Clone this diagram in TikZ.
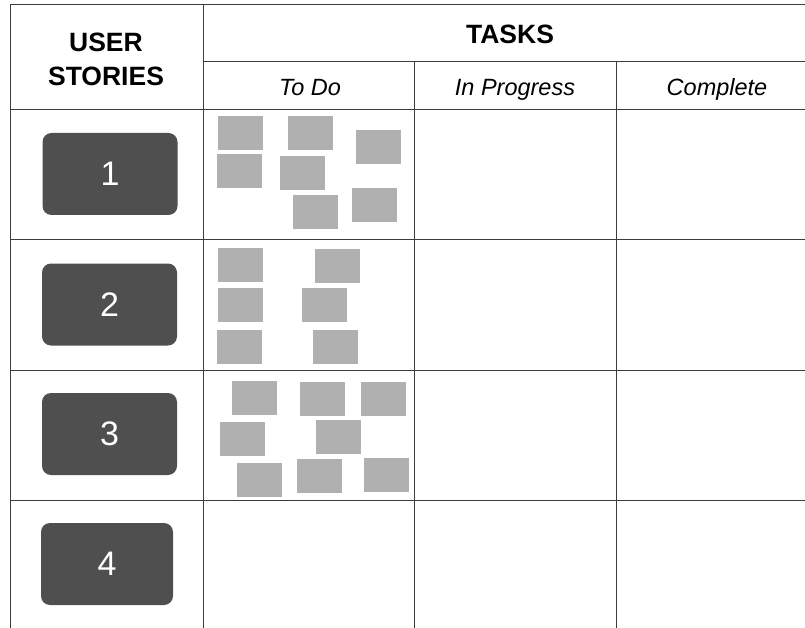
\documentclass[tikz,border=0pt]{standalone}
\usepackage{fontspec}
\setmainfont{Liberation Sans}
\definecolor{storygray}{RGB}{79,79,79}
\definecolor{cardgray}{RGB}{176,176,177}
\definecolor{linegray}{RGB}{60,60,60}

\begin{document}
\begin{tikzpicture}[x=1pt,y=-1pt,
    tableline/.style={draw=linegray,line width=1pt},
    story/.style={fill=storygray,rounded corners=9pt,minimum width=135pt,minimum height=82pt,
        text=white,font=\fontsize{34}{40}\selectfont},
    head/.style={font=\fontsize{26.5}{34}\selectfont\bfseries,align=center},
    col/.style={font=\fontsize{23.5}{28}\selectfont\itshape,anchor=base},
    card/.style={fill=cardgray}]
    \useasboundingbox (0,0) rectangle (805,628);

    % table
    \draw[tableline] (805,5)--(10,5)--(10,628);
    \draw[tableline] (203,5)--(203,628);
    \draw[tableline] (203,62)--(805,62);
    \draw[tableline] (414,62)--(414,628);
    \draw[tableline] (616,62)--(616,628);
    \foreach \y in {110,240,370,500}
        \draw[tableline] (10,\y)--(805,\y);

    % headers
    \node[head] (userstories) at (106,59.5) {USER\\STORIES};
    \node[head,anchor=base] (tasks) at (510,44) {TASKS};
    \node[col] (todo) at (310,96) {To Do};
    \node[col] (inprogress) at (515,96) {In Progress};
    \node[col] (complete) at (717,96) {Complete};

    % user stories
    \node[story] (s1) at (110,174) {1};
    \node[story] (s2) at (109.5,304.5) {2};
    \node[story] (s3) at (109.5,434) {3};
    \node[story,minimum width=132pt] (s4) at (107,564) {4};

    % task cards
    \foreach \x/\y in {218/116,288/116,356/130,217/154,280/156,293/195,352/188,
                       218/248,315/249,218/288,302/288,217/330,313/330,
                       232/381,300/382,361/382,220/422,316/420,237/463,297/459,364/458}
        \fill[card] (\x,\y) rectangle ++(45,34);

\end{tikzpicture}
\end{document}
